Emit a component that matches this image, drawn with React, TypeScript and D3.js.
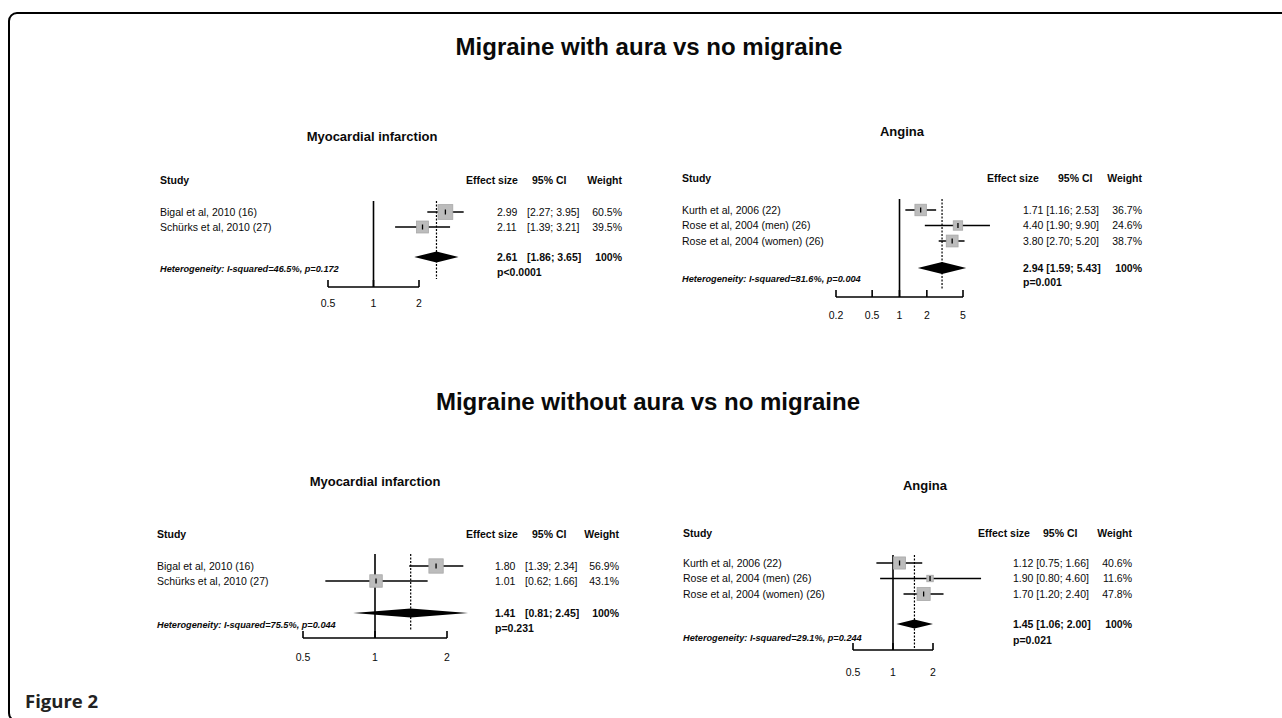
import React from "react";
import * as d3 from "d3";

// ---------- DATA ----------
const mainTitles = ["Migraine with aura vs no migraine", "Migraine without aura vs no migraine"];
const outcomeTitles = ["Myocardial infarction", "Angina", "Myocardial infarction", "Angina"];
const headerLabels = ["Study", "Effect size", "95% CI", "Weight"];

const miStudies = ["Bigal et al, 2010 (16)", "Schürks et al, 2010 (27)"];
const anginaStudies = ["Kurth et al, 2006 (22)", "Rose et al, 2004 (men) (26)", "Rose et al, 2004 (women) (26)"];

// Panel A: MI, with aura
const aEffect = [2.99, 2.11];
const aLower = [2.27, 1.39];
const aUpper = [3.95, 3.21];
const aWeight = [60.5, 39.5];
const aSummary = [2.61, 1.86, 3.65];
const aP = "p<0.0001";
const aHet = "Heterogeneity: I-squared=46.5%, p=0.172";
const aTicks = [0.5, 1, 2];

// Panel B: Angina, with aura
const bEffect = [1.71, 4.4, 3.8];
const bLower = [1.16, 1.9, 2.7];
const bUpper = [2.53, 9.9, 5.2];
const bWeight = [36.7, 24.6, 38.7];
const bSummary = [2.94, 1.59, 5.43];
const bP = "p=0.001";
const bHet = "Heterogeneity: I-squared=81.6%, p=0.004";
const bTicks = [0.2, 0.5, 1, 2, 5];

// Panel C: MI, without aura
const cEffect = [1.8, 1.01];
const cLower = [1.39, 0.62];
const cUpper = [2.34, 1.66];
const cWeight = [56.9, 43.1];
const cSummary = [1.41, 0.81, 2.45];
const cP = "p=0.231";
const cHet = "Heterogeneity: I-squared=75.5%, p=0.044";
const cTicks = [0.5, 1, 2];

// Panel D: Angina, without aura
const dEffect = [1.12, 1.9, 1.7];
const dLower = [0.75, 0.8, 1.2];
const dUpper = [1.66, 4.6, 2.4];
const dWeight = [40.6, 11.6, 47.8];
const dSummary = [1.45, 1.06, 2.0];
const dP = "p=0.021";
const dHet = "Heterogeneity: I-squared=29.1%, p=0.244";
const dTicks = [0.5, 1, 2];

const figureLabel = "Figure 2";

// ---------- LAYOUT ----------
type Layout = {
  titleX: number; titleY: number;
  studyX: number; headerY: number;
  rowY0: number; rowStep: number;
  sumY: number; pY: number; hetY: number;
  lineTop: number; axisY: number; labelY: number; dotBottom: number;
  xRange: [number, number];
  hdrES: number; hdrCI: number; colW: number;
  esX: number; ciX: number | null;
  diamondH: number;
};

const layouts: Layout[] = [
  { titleX: 372, titleY: 136, studyX: 160, headerY: 180, rowY0: 212, rowStep: 15, sumY: 257, pY: 272, hetY: 269,
    lineTop: 201, axisY: 287, labelY: 303, dotBottom: 279, xRange: [328, 419],
    hdrES: 466, hdrCI: 532, colW: 622, esX: 497, ciX: 527, diamondH: 11 },
  { titleX: 902, titleY: 131, studyX: 682, headerY: 178, rowY0: 210, rowStep: 15.5, sumY: 268, pY: 282, hetY: 279,
    lineTop: 199, axisY: 297, labelY: 315, dotBottom: 289, xRange: [836, 963],
    hdrES: 987, hdrCI: 1058, colW: 1142, esX: 1023, ciX: null, diamondH: 12 },
  { titleX: 375, titleY: 481, studyX: 157, headerY: 534, rowY0: 566, rowStep: 15, sumY: 613, pY: 628, hetY: 625,
    lineTop: 554, axisY: 638, labelY: 657, dotBottom: 630, xRange: [303, 447],
    hdrES: 466, hdrCI: 532, colW: 619, esX: 495, ciX: 525, diamondH: 9 },
  { titleX: 925, titleY: 485, studyX: 683, headerY: 533, rowY0: 563, rowStep: 15.5, sumY: 624, pY: 640, hetY: 638,
    lineTop: 555, axisY: 650, labelY: 672, dotBottom: 648, xRange: [853, 933],
    hdrES: 978, hdrCI: 1043, colW: 1132, esX: 1013, ciX: null, diamondH: 9 },
];

type Panel = {
  studies: string[]; effect: number[]; lower: number[]; upper: number[]; weight: number[];
  summary: number[]; p: string; het: string; ticks: number[];
};

const panels: Panel[] = [
  { studies: miStudies, effect: aEffect, lower: aLower, upper: aUpper, weight: aWeight, summary: aSummary, p: aP, het: aHet, ticks: aTicks },
  { studies: anginaStudies, effect: bEffect, lower: bLower, upper: bUpper, weight: bWeight, summary: bSummary, p: bP, het: bHet, ticks: bTicks },
  { studies: miStudies, effect: cEffect, lower: cLower, upper: cUpper, weight: cWeight, summary: cSummary, p: cP, het: cHet, ticks: cTicks },
  { studies: anginaStudies, effect: dEffect, lower: dLower, upper: dUpper, weight: dWeight, summary: dSummary, p: dP, het: dHet, ticks: dTicks },
];

const FONT = "'Liberation Sans', Arial, Helvetica, sans-serif";
const fmt2 = d3.format(".2f");
const fmtW = (w: number) => `${d3.format(".1f")(w)}%`;
const tickFmt = (t: number) => String(t);
const sizeScale = d3.scaleSqrt().domain([0, 100]).range([0, 19]);

function ForestPanel({ panel, lay, title }: { panel: Panel; lay: Layout; title: string }) {
  const x = d3.scaleLog().domain([panel.ticks[0], panel.ticks[panel.ticks.length - 1]]).range(lay.xRange);
  const rowY = (i: number) => lay.rowY0 + i * lay.rowStep;
  const [sEst, sLo, sHi] = panel.summary;
  const dh = lay.diamondH / 2;
  const diamond = d3.line()([
    [x(sLo), lay.sumY], [x(sEst), lay.sumY - dh], [x(sHi), lay.sumY], [x(sEst), lay.sumY + dh],
  ]) + "Z";
  const axisLeft = x(panel.ticks[0]);
  const axisRight = x(panel.ticks[panel.ticks.length - 1]);
  const txt = { fontFamily: FONT, fontSize: 10.5, fill: "#0a0a0a" } as const;
  return (
    <g>
      <text x={lay.titleX} y={lay.titleY} dy="0.35em" textAnchor="middle" fontFamily={FONT} fontSize={13} fontWeight="bold" fill="#0a0a0a">{title}</text>
      {/* headers */}
      <text x={lay.studyX} y={lay.headerY} dy="0.35em" {...txt} fontWeight="bold">{headerLabels[0]}</text>
      <text x={lay.hdrES} y={lay.headerY} dy="0.35em" {...txt} fontWeight="bold">{headerLabels[1]}</text>
      <text x={lay.hdrCI} y={lay.headerY} dy="0.35em" {...txt} fontWeight="bold">{headerLabels[2]}</text>
      <text x={lay.colW} y={lay.headerY} dy="0.35em" {...txt} fontWeight="bold" textAnchor="end">{headerLabels[3]}</text>
      {/* null line */}
      <line x1={x(1)} x2={x(1)} y1={lay.lineTop} y2={lay.axisY} stroke="#000" strokeWidth={1.6} />
      {/* summary dotted line */}
      <line x1={x(sEst)} x2={x(sEst)} y1={lay.lineTop} y2={lay.dotBottom} stroke="#000" strokeWidth={1.2} strokeDasharray="2,1.5" />
      {/* axis */}
      <line x1={axisLeft} x2={axisRight} y1={lay.axisY} y2={lay.axisY} stroke="#000" strokeWidth={1.6} />
      {panel.ticks.map((t) => (
        <g key={t}>
          <line x1={x(t)} x2={x(t)} y1={lay.axisY} y2={lay.axisY - 7} stroke="#000" strokeWidth={1.6} />
          <text x={x(t)} y={lay.labelY} dy="0.35em" textAnchor="middle" {...txt}>{tickFmt(t)}</text>
        </g>
      ))}
      {/* studies */}
      {panel.studies.map((s, i) => {
        const y = rowY(i);
        const sz = sizeScale(panel.weight[i]);
        return (
          <g key={s}>
            <text x={lay.studyX} y={y} dy="0.35em" {...txt}>{s}</text>
            <line x1={x(panel.lower[i])} x2={x(panel.upper[i])} y1={y} y2={y} stroke="#000" strokeWidth={1.5} />
            <rect x={x(panel.effect[i]) - sz / 2} y={y - sz / 2} width={sz} height={sz} fill="#bcbcbc" stroke="#a8a8a8" strokeWidth={0.8} />
            <line x1={x(panel.effect[i])} x2={x(panel.effect[i])} y1={y - 2.5} y2={y + 2.5} stroke="#000" strokeWidth={1.3} />
            {lay.ciX === null ? (
              <text x={lay.esX} y={y} dy="0.35em" {...txt}>{`${fmt2(panel.effect[i])} [${fmt2(panel.lower[i])}; ${fmt2(panel.upper[i])}]`}</text>
            ) : (
              <>
                <text x={lay.esX} y={y} dy="0.35em" {...txt}>{fmt2(panel.effect[i])}</text>
                <text x={lay.ciX} y={y} dy="0.35em" {...txt}>{`[${fmt2(panel.lower[i])}; ${fmt2(panel.upper[i])}]`}</text>
              </>
            )}
            <text x={lay.colW} y={y} dy="0.35em" textAnchor="end" {...txt}>{fmtW(panel.weight[i])}</text>
          </g>
        );
      })}
      {/* summary */}
      <path d={diamond} fill="#000" />
      {lay.ciX === null ? (
        <text x={lay.esX} y={lay.sumY} dy="0.35em" {...txt} fontWeight="bold">{`${fmt2(sEst)} [${fmt2(sLo)}; ${fmt2(sHi)}]`}</text>
      ) : (
        <>
          <text x={lay.esX} y={lay.sumY} dy="0.35em" {...txt} fontWeight="bold">{fmt2(sEst)}</text>
          <text x={lay.ciX} y={lay.sumY} dy="0.35em" {...txt} fontWeight="bold">{`[${fmt2(sLo)}; ${fmt2(sHi)}]`}</text>
        </>
      )}
      <text x={lay.colW} y={lay.sumY} dy="0.35em" textAnchor="end" {...txt} fontWeight="bold">100%</text>
      <text x={lay.esX} y={lay.pY} dy="0.35em" {...txt} fontWeight="bold">{panel.p}</text>
      <text x={lay.studyX} y={lay.hetY} dy="0.35em" fontFamily={FONT} fontSize={9.2} fontWeight="bold" fontStyle="italic" fill="#0a0a0a">{panel.het}</text>
    </g>
  );
}

export default function App() {
  return (
    <svg width={1282} height={718} style={{ position: "absolute", left: 0, top: 0, background: "#fff" }}>
      <rect x={0} y={0} width={1282} height={718} fill="#fff" />
      <rect x={9} y={13} width={1300} height={708} rx={8} ry={8} fill="none" stroke="#000" strokeWidth={2} />
      <text x={649} y={47} dy="0.35em" textAnchor="middle" fontFamily={FONT} fontSize={24} fontWeight="bold" fill="#0a0a0a">{mainTitles[0]}</text>
      <text x={648} y={402} dy="0.35em" textAnchor="middle" fontFamily={FONT} fontSize={24} fontWeight="bold" fill="#0a0a0a">{mainTitles[1]}</text>
      {panels.map((p, i) => (
        <ForestPanel key={i} panel={p} lay={layouts[i]} title={outcomeTitles[i]} />
      ))}
      <text x={25} y={708} fontFamily="'Open Sans', sans-serif" fontSize={18.5} fontWeight="bold" fill="#222">{figureLabel}</text>
    </svg>
  );
}
